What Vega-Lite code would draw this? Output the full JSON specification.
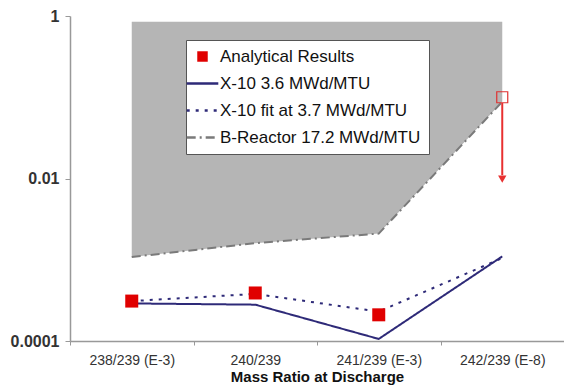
{
  "$schema": "https://vega.github.io/schema/vega-lite/v6.json",
  "width": 494,
  "height": 325,
  "autosize": "none",
  "padding": {"left": 70, "top": 16, "right": 0, "bottom": 45},
  "background": "white",
  "config": {
    "view": {"stroke": null},
    "font": "Liberation Sans"
  },
  "datasets": {
    "area": [
      {"cat": "238/239 (E-3)", "high": 0.85, "value": 0.00108},
      {"cat": "240/239", "high": 0.85, "value": 0.0016},
      {"cat": "241/239 (E-3)", "high": 0.85, "value": 0.0021},
      {"cat": "242/239 (E-8)", "high": 0.85, "value": 0.088}
    ],
    "lines": [
      {"series": "X-10 3.6 MWd/MTU", "cat": "238/239 (E-3)", "value": 0.00029},
      {"series": "X-10 3.6 MWd/MTU", "cat": "240/239", "value": 0.00028},
      {"series": "X-10 3.6 MWd/MTU", "cat": "241/239 (E-3)", "value": 0.000106},
      {"series": "X-10 3.6 MWd/MTU", "cat": "242/239 (E-8)", "value": 0.0011},
      {"series": "X-10 fit at 3.7 MWd/MTU", "cat": "238/239 (E-3)", "value": 0.00031},
      {"series": "X-10 fit at 3.7 MWd/MTU", "cat": "240/239", "value": 0.00038},
      {"series": "X-10 fit at 3.7 MWd/MTU", "cat": "241/239 (E-3)", "value": 0.00023},
      {"series": "X-10 fit at 3.7 MWd/MTU", "cat": "242/239 (E-8)", "value": 0.00105},
      {"series": "B-Reactor 17.2 MWd/MTU", "cat": "238/239 (E-3)", "value": 0.00108},
      {"series": "B-Reactor 17.2 MWd/MTU", "cat": "240/239", "value": 0.0016},
      {"series": "B-Reactor 17.2 MWd/MTU", "cat": "241/239 (E-3)", "value": 0.0021},
      {"series": "B-Reactor 17.2 MWd/MTU", "cat": "242/239 (E-8)", "value": 0.088}
    ],
    "points": [
      {"series": "Analytical Results", "cat": "238/239 (E-3)", "value": 0.00031},
      {"series": "Analytical Results", "cat": "240/239", "value": 0.00039},
      {"series": "Analytical Results", "cat": "241/239 (E-3)", "value": 0.00021}
    ],
    "open": [
      {"cat": "242/239 (E-8)", "value": 0.1}
    ],
    "arrow": [
      {"cat": "242/239 (E-8)", "value": 0.085, "end": 0.011, "tip": 0.0098}
    ]
  },
  "encoding": {
    "x": {
      "field": "cat",
      "type": "nominal",
      "sort": ["238/239 (E-3)", "240/239", "241/239 (E-3)", "242/239 (E-8)"],
      "bandPosition": 0.5,
      "scale": {"type": "band", "paddingInner": 0, "paddingOuter": 0},
      "axis": {
        "title": "Mass Ratio at Discharge",
        "titleFontSize": 15,
        "titleFontWeight": "bold",
        "titleColor": "#111",
        "titlePadding": 2,
        "labelAngle": 0,
        "labelFontSize": 14,
        "labelColor": "#333",
        "labelPadding": 8,
        "tickBand": "extent",
        "tickSize": 4,
        "tickColor": "#999",
        "domainColor": "#999",
        "domainWidth": 1.5,
        "grid": false
      }
    }
  },
  "layer": [
    {
      "data": {"name": "area"},
      "mark": {"type": "area", "color": "#b5b5b5", "opacity": 1},
      "encoding": {
        "y": {
          "field": "high",
          "type": "quantitative",
          "scale": {"type": "log", "domain": [0.0001, 1]},
          "axis": {
            "title": null,
            "values": [0.0001, 0.01, 1],
            "format": "~g",
            "labelFontSize": 16,
            "labelFontWeight": "bold",
            "labelColor": "#333",
            "labelPadding": 6,
            "tickSize": 5,
            "tickColor": "#999",
            "domainColor": "#999",
            "domainWidth": 1.5,
            "grid": false
          }
        },
        "y2": {"field": "value"}
      }
    },
    {
      "data": {"name": "lines"},
      "mark": {"type": "line", "strokeWidth": 2},
      "encoding": {
        "y": {"field": "value", "type": "quantitative"},
        "color": {
          "field": "series",
          "type": "nominal",
          "scale": {
            "domain": ["Analytical Results", "X-10 3.6 MWd/MTU", "X-10 fit at 3.7 MWd/MTU", "B-Reactor 17.2 MWd/MTU"],
            "range": ["#e00000", "#2e2a78", "#2e2a78", "#7a7a7a"]
          },
          "legend": {
            "title": null,
            "orient": "none",
            "legendX": 116,
            "legendY": 24,
            "fillColor": "white",
            "strokeColor": "#555",
            "padding": 8,
            "rowPadding": 9,
            "labelFontSize": 17,
            "labelColor": "#111",
            "labelOffset": 9,
            "labelLimit": 400,
            "symbolSize": 1000,
            "symbolType": "stroke",
            "symbolStrokeWidth": 2,
            "encode": {
              "symbols": {
                "update": {
                  "shape": {"signal": "datum.value === 'Analytical Results' ? 'square' : 'stroke'"},
                  "size": {"signal": "datum.value === 'Analytical Results' ? 110 : 1000"},
                  "fill": {"signal": "datum.value === 'Analytical Results' ? '#e00000' : 'transparent'"},
                  "stroke": {"signal": "datum.value === 'Analytical Results' ? '#e00000' : (datum.value === 'B-Reactor 17.2 MWd/MTU' ? '#7a7a7a' : '#2e2a78')"},
                  "strokeDash": {"signal": "datum.value === 'X-10 fit at 3.7 MWd/MTU' ? [3, 6] : (datum.value === 'B-Reactor 17.2 MWd/MTU' ? [9, 4, 2, 4] : [1, 0])"},
                  "strokeWidth": {"signal": "datum.value === 'Analytical Results' ? 0 : 2.5"},
                  "opacity": {"value": 1}
                }
              }
            }
          }
        },
        "strokeDash": {
          "field": "series",
          "type": "nominal",
          "scale": {
            "domain": ["X-10 3.6 MWd/MTU", "X-10 fit at 3.7 MWd/MTU", "B-Reactor 17.2 MWd/MTU"],
            "range": [[1, 0], [3, 6], [9, 4, 2, 4]]
          },
          "legend": null
        }
      }
    },
    {
      "data": {"name": "points"},
      "mark": {"type": "point", "shape": "square", "filled": true, "size": 169, "opacity": 1, "color": "#e00000"},
      "encoding": {
        "y": {"field": "value", "type": "quantitative"}
      }
    },
    {
      "data": {"name": "open"},
      "mark": {"type": "point", "shape": "square", "filled": false, "size": 121, "color": "#e03030", "strokeWidth": 1.2, "opacity": 1},
      "encoding": {
        "y": {"field": "value", "type": "quantitative"}
      }
    },
    {
      "data": {"name": "arrow"},
      "mark": {"type": "rule", "color": "#e83030", "strokeWidth": 2},
      "encoding": {
        "y": {"field": "value", "type": "quantitative"},
        "y2": {"field": "end"}
      }
    },
    {
      "data": {"name": "arrow"},
      "mark": {"type": "point", "shape": "triangle-down", "filled": true, "size": 70, "color": "#e83030", "opacity": 1},
      "encoding": {
        "y": {"field": "tip", "type": "quantitative"}
      }
    }
  ]
}
